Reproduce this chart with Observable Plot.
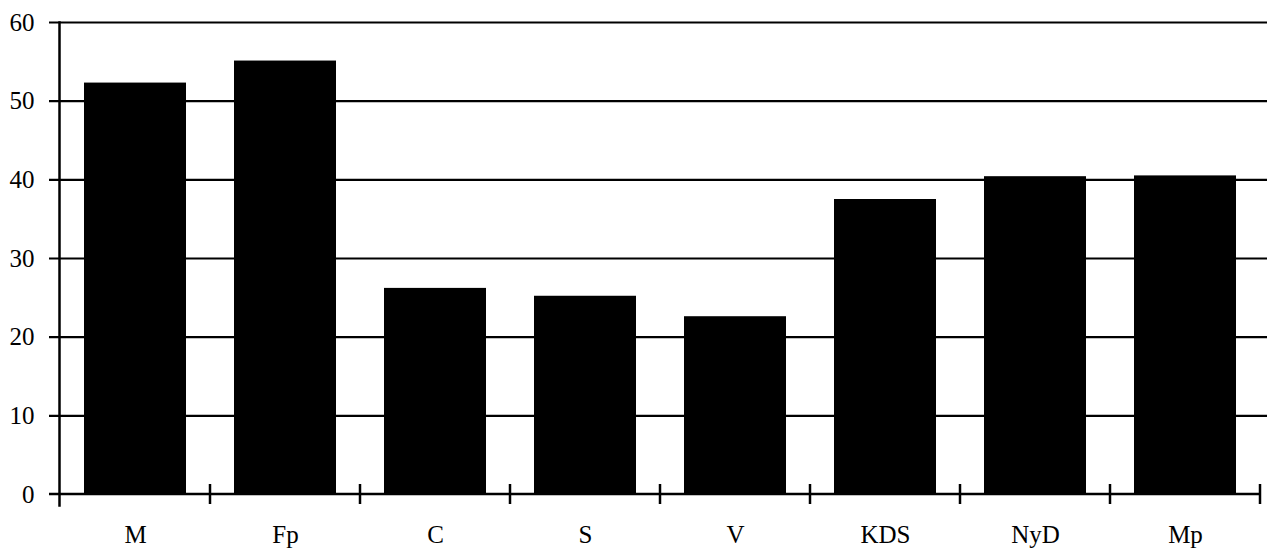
<!DOCTYPE html>
<html>
<head>
<meta charset="utf-8">
<script src="https://cdn.jsdelivr.net/npm/d3@7"></script>
<script src="https://cdn.jsdelivr.net/npm/@observablehq/plot@0.6"></script>
<style>
  html, body { margin: 0; padding: 0; background: #fff; }
  svg { display: block; }
</style>
</head>
<body>
<div id="chart"></div>
<script>
const categories = ["M", "Fp", "C", "S", "V", "KDS", "NyD", "Mp"];
const values = [52.3, 55.1, 26.2, 25.2, 22.6, 37.5, 40.4, 40.5];
const yTicks = [0, 10, 20, 30, 40, 50, 60];
const gridTicks = [10, 20, 30, 40, 50, 60];

const data = categories.map((c, i) => ({cat: c, value: values[i]}));

const PI = 0.32; // padding inner
const PO = 0.16; // padding outer

// Function mark: tick marks at category boundaries, crossing the x axis
function boundaryTicks(index, scales, values, dimensions) {
  const x = scales.x, y = scales.y;
  const step = x(categories[1]) - x(categories[0]);
  const y0 = y(0);
  const g = d3.create("svg:g");
  const bounds = categories.map(c => x(c) - step * PI / 2);
  bounds.push(x(categories[categories.length - 1]) + step - step * PI / 2);
  bounds.slice(1).forEach(bx => {
    g.append("line")
      .attr("x1", bx).attr("x2", bx)
      .attr("y1", y0 - 10).attr("y2", y0 + 10)
      .attr("stroke", "black").attr("stroke-width", 2.5);
  });
  // x axis line from y-axis tick start to the last boundary tick
  g.append("line")
    .attr("x1", dimensions.marginLeft - 10).attr("x2", bounds[bounds.length - 1])
    .attr("y1", y0).attr("y2", y0)
    .attr("stroke", "black").attr("stroke-width", 2.5);
  return g.node();
}

const plot = Plot.plot({
  width: 1269,
  height: 549,
  marginLeft: 59,
  marginRight: 8,
  marginTop: 22,
  marginBottom: 55,
  style: {fontFamily: "'Liberation Serif', serif", fontSize: "25px", color: "black", background: "white"},
  x: {domain: categories, paddingInner: PI, paddingOuter: PO, label: null},
  y: {domain: [0, 60], label: null},
  marks: [
    Plot.ruleY(gridTicks, {stroke: "black", strokeWidth: 2.2, insetLeft: -10, insetRight: -6}),
    Plot.barY(data, {x: "cat", y: "value", fill: "black"}),
    Plot.frame({anchor: "left", stroke: "black", strokeWidth: 2.5, insetBottom: -11}),
    boundaryTicks,
    Plot.axisY({ticks: yTicks, tickSize: 0, tickPadding: 25, fontSize: 25, label: null}),
    Plot.axisX({tickSize: 0, tickPadding: 31, fontSize: 25, label: null})
  ]
});
document.getElementById("chart").appendChild(plot);
</script>
</body>
</html>
